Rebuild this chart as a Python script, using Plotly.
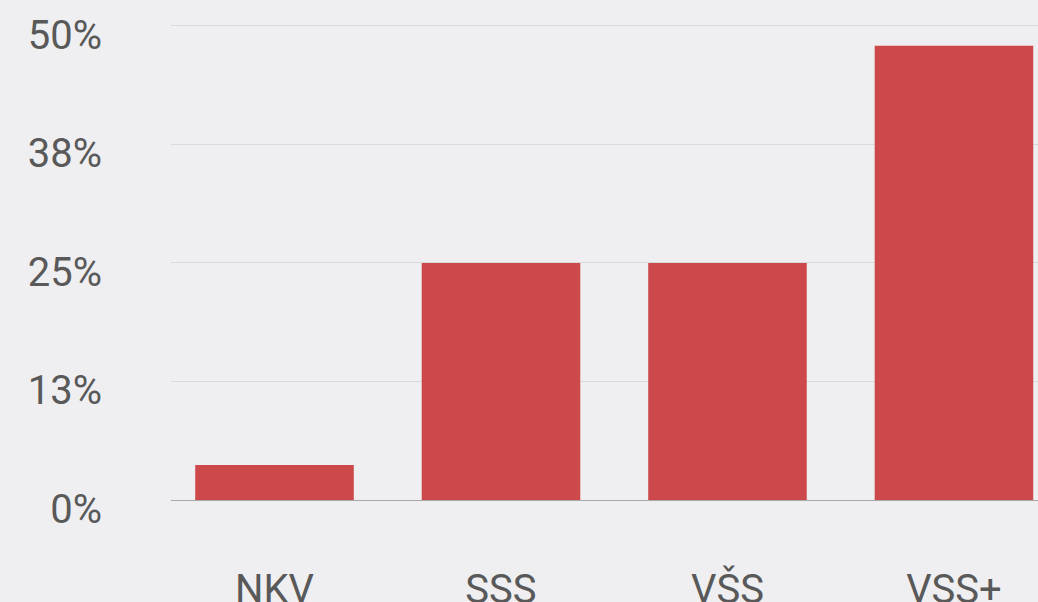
import plotly.graph_objects as go

categories = ["NKV", "SSS", "VŠS", "VSS+"]
values = [3.7, 25.0, 25.0, 47.9]
y_tickvals = [0, 12.5, 25, 37.5, 50]
y_ticktext = ["0%", "13%", "25%", "38%", "50%"]

fig = go.Figure(
    go.Bar(
        x=categories,
        y=values,
        marker=dict(color="#CD484A", line=dict(width=0)),
        hoverinfo="x+y",
    )
)

fig.update_layout(
    width=1038,
    height=602,
    margin=dict(l=171, r=0, t=23, b=102),
    paper_bgcolor="#EFEFF1",
    plot_bgcolor="#EFEFF1",
    bargap=0.3,
    showlegend=False,
    font=dict(family="Roboto", size=40, color="#595959"),
)

fig.update_xaxes(
    range=[-0.457, 3.371],
    showgrid=False,
    showline=False,
    zeroline=False,
    ticks="",
    automargin=False,
    ticklabelstandoff=62,
    tickfont=dict(family="Roboto", size=40, color="#595959"),
)

fig.update_yaxes(
    range=[0, 50.3],
    tickvals=y_tickvals,
    ticktext=y_ticktext,
    showgrid=True,
    gridcolor="#DADADA",
    gridwidth=1,
    zeroline=True,
    zerolinecolor="#A8A8A8",
    zerolinewidth=1,
    showline=False,
    ticks="",
    automargin=False,
    ticklabelstandoff=68,
    ticklabelshift=9,
    tickfont=dict(family="Roboto", size=40, color="#595959"),
)

fig.write_html(
    "out.html",
    config={"displayModeBar": False},
    post_script="document.body.style.margin='0';document.body.style.background='#EFEFF1';",
)
